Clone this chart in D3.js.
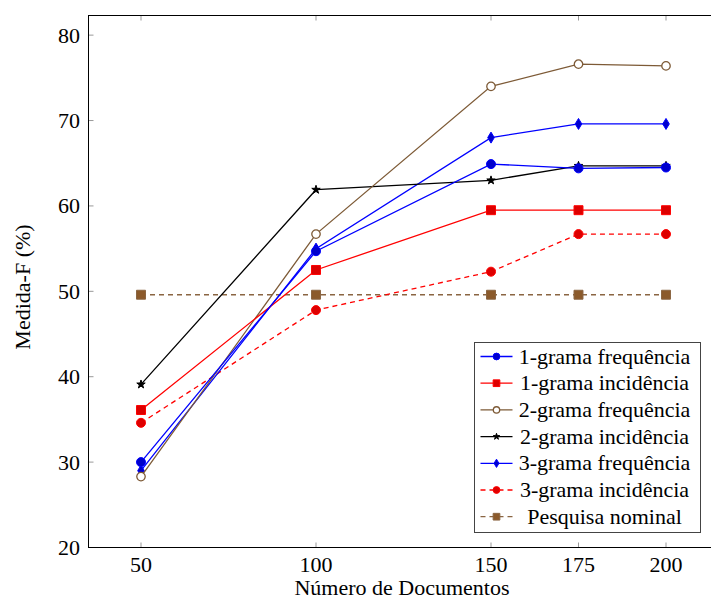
<!DOCTYPE html>
<html>
<head>
<meta charset="utf-8">
<script src="https://cdn.jsdelivr.net/npm/d3@7"></script>
<style>
  body { margin: 0; background: #fff; }
  svg text { font-family: "Liberation Serif", "DejaVu Serif", serif; fill: #000; }
</style>
</head>
<body>
<svg id="chart" width="711" height="601"></svg>
<script>
// x categories (number of documents) and the F-measure series
const docs = [50, 100, 150, 175, 200];
const xTicks = [50, 100, 150, 175, 200];
const yTicks = [20, 30, 40, 50, 60, 70, 80];

const uniFreq  = [30.0, 54.7, 64.9, 64.4, 64.5];
const uniInc   = [36.1, 52.5, 59.5, 59.5, 59.5];
const biFreq   = [28.3, 56.7, 74.0, 76.6, 76.4];
const biInc    = [39.1, 61.9, 63.0, 64.7, 64.7];
const triFreq  = [29.0, 55.0, 68.0, 69.6, 69.6];
const triInc   = [34.6, 47.8, 52.3, 56.7, 56.7];
const nominal  = [49.6, 49.6, 49.6, 49.6, 49.6];

const series = [
  { name: "1-grama frequência", values: uniFreq, color: "#0000ff", fill: "#0000cc", mark: "circle", dash: null },
  { name: "1-grama incidência", values: uniInc, color: "#ff0000", fill: "#dd0000", mark: "square", dash: null },
  { name: "2-grama frequência", values: biFreq, color: "#7d5a36", fill: "#fff", mark: "ocircle", dash: null },
  { name: "2-grama incidência", values: biInc, color: "#000000", fill: "#000", mark: "star", dash: null },
  { name: "3-grama frequência", values: triFreq, color: "#0000ff", fill: "#0000cc", mark: "diamond", dash: null },
  { name: "3-grama incidência", values: triInc, color: "#ff0000", fill: "#dd0000", mark: "circle", dash: "5,4" },
  { name: "Pesquisa nominal", values: nominal, color: "#8a6542", fill: "#8b5a2b", mark: "square", dash: "5,4" }
];

const svg = d3.select("#chart");
const pLeft = 88.5, pTop = 15.5, pBottom = 547.5, pRight = 718.5;
const FS = 22;

const x = d3.scaleLinear().domain([35, 215]).range([pLeft, pRight]);
const y = d3.scaleLinear().domain([20, 82.3]).range([pBottom, pTop]);

// inner ticks (grey), like pgfplots
const tickG = svg.append("g").attr("stroke", "#999").attr("stroke-width", 1);
xTicks.forEach(t => {
  tickG.append("line").attr("x1", x(t)).attr("x2", x(t)).attr("y1", pBottom).attr("y2", pBottom - 5);
  tickG.append("line").attr("x1", x(t)).attr("x2", x(t)).attr("y1", pTop).attr("y2", pTop + 5);
});
yTicks.forEach(t => {
  tickG.append("line").attr("x1", pLeft).attr("x2", pLeft + 5).attr("y1", y(t)).attr("y2", y(t));
});

// frame
svg.append("rect")
  .attr("x", pLeft).attr("y", pTop)
  .attr("width", pRight - pLeft).attr("height", pBottom - pTop)
  .attr("fill", "none").attr("stroke", "#000").attr("stroke-width", 1);

// tick labels
svg.append("g").selectAll("text").data(xTicks).join("text")
  .attr("x", d => x(d)).attr("y", 572)
  .attr("text-anchor", "middle").attr("font-size", FS)
  .text(d => d);
svg.append("g").selectAll("text").data(yTicks).join("text")
  .attr("x", 80).attr("y", d => y(d) + 7.5)
  .attr("text-anchor", "end").attr("font-size", FS)
  .text(d => d);

// axis titles
svg.append("text").attr("x", 402).attr("y", 595)
  .attr("text-anchor", "middle").attr("font-size", FS)
  .text("Número de Documentos");
svg.append("text").attr("transform", "translate(30,287) rotate(-90)")
  .attr("text-anchor", "middle").attr("font-size", FS)
  .text("Medida-F (%)");

function drawMark(g, s, cx, cy, k) {
  if (s.mark === "diamond") {
    g.append("path")
      .attr("d", `M${cx},${cy - 5.5 * k}L${cx + 3.3 * k},${cy}L${cx},${cy + 5.5 * k}L${cx - 3.3 * k},${cy}Z`)
      .attr("fill", s.fill).attr("stroke", s.color).attr("stroke-width", 1);
    return;
  }
  const shape = {
    circle: [d3.symbolCircle, 64],
    ocircle: [d3.symbolCircle, 56],
    square: [d3.symbolSquare, 80],
    star: [d3.symbolStar, 22]
  }[s.mark];
  g.append("path")
    .attr("d", d3.symbol(shape[0], shape[1] * k * k)())
    .attr("transform", `translate(${cx},${cy})`)
    .attr("fill", s.fill)
    .attr("stroke", s.mark === "star" ? "#000" : s.color)
    .attr("stroke-width", s.mark === "ocircle" ? 1.3 : 1);
}

const line = d3.line().x((d, i) => x(docs[i])).y(d => y(d));

// draw in reverse so the first series sits on top, like the reference
const plotG = svg.append("g");
series.slice().reverse().forEach(s => {
  plotG.append("path")
    .attr("d", line(s.values))
    .attr("fill", "none")
    .attr("stroke", s.color)
    .attr("stroke-width", 1.3)
    .attr("stroke-dasharray", s.dash);
  s.values.forEach((v, i) => drawMark(plotG, s, x(docs[i]), y(v), 1));
});

// legend
const lg = svg.append("g");
const lx = 474.5, ly = 342.5, lw = 226, lh = 190, rowH = 26.7;
lg.append("rect").attr("x", lx).attr("y", ly).attr("width", lw).attr("height", lh)
  .attr("fill", "#fff").attr("stroke", "#444").attr("stroke-width", 1);
series.forEach((s, i) => {
  const cy = ly + 14 + i * rowH;
  lg.append("line").attr("x1", lx + 6).attr("x2", lx + 38).attr("y1", cy).attr("y2", cy)
    .attr("stroke", s.color).attr("stroke-width", 1.3).attr("stroke-dasharray", s.dash);
  drawMark(lg, s, lx + 22, cy, 0.75);
  lg.append("text").attr("x", lx + 130).attr("y", cy + 7)
    .attr("text-anchor", "middle").attr("font-size", FS)
    .text(s.name);
});
</script>
</body>
</html>
